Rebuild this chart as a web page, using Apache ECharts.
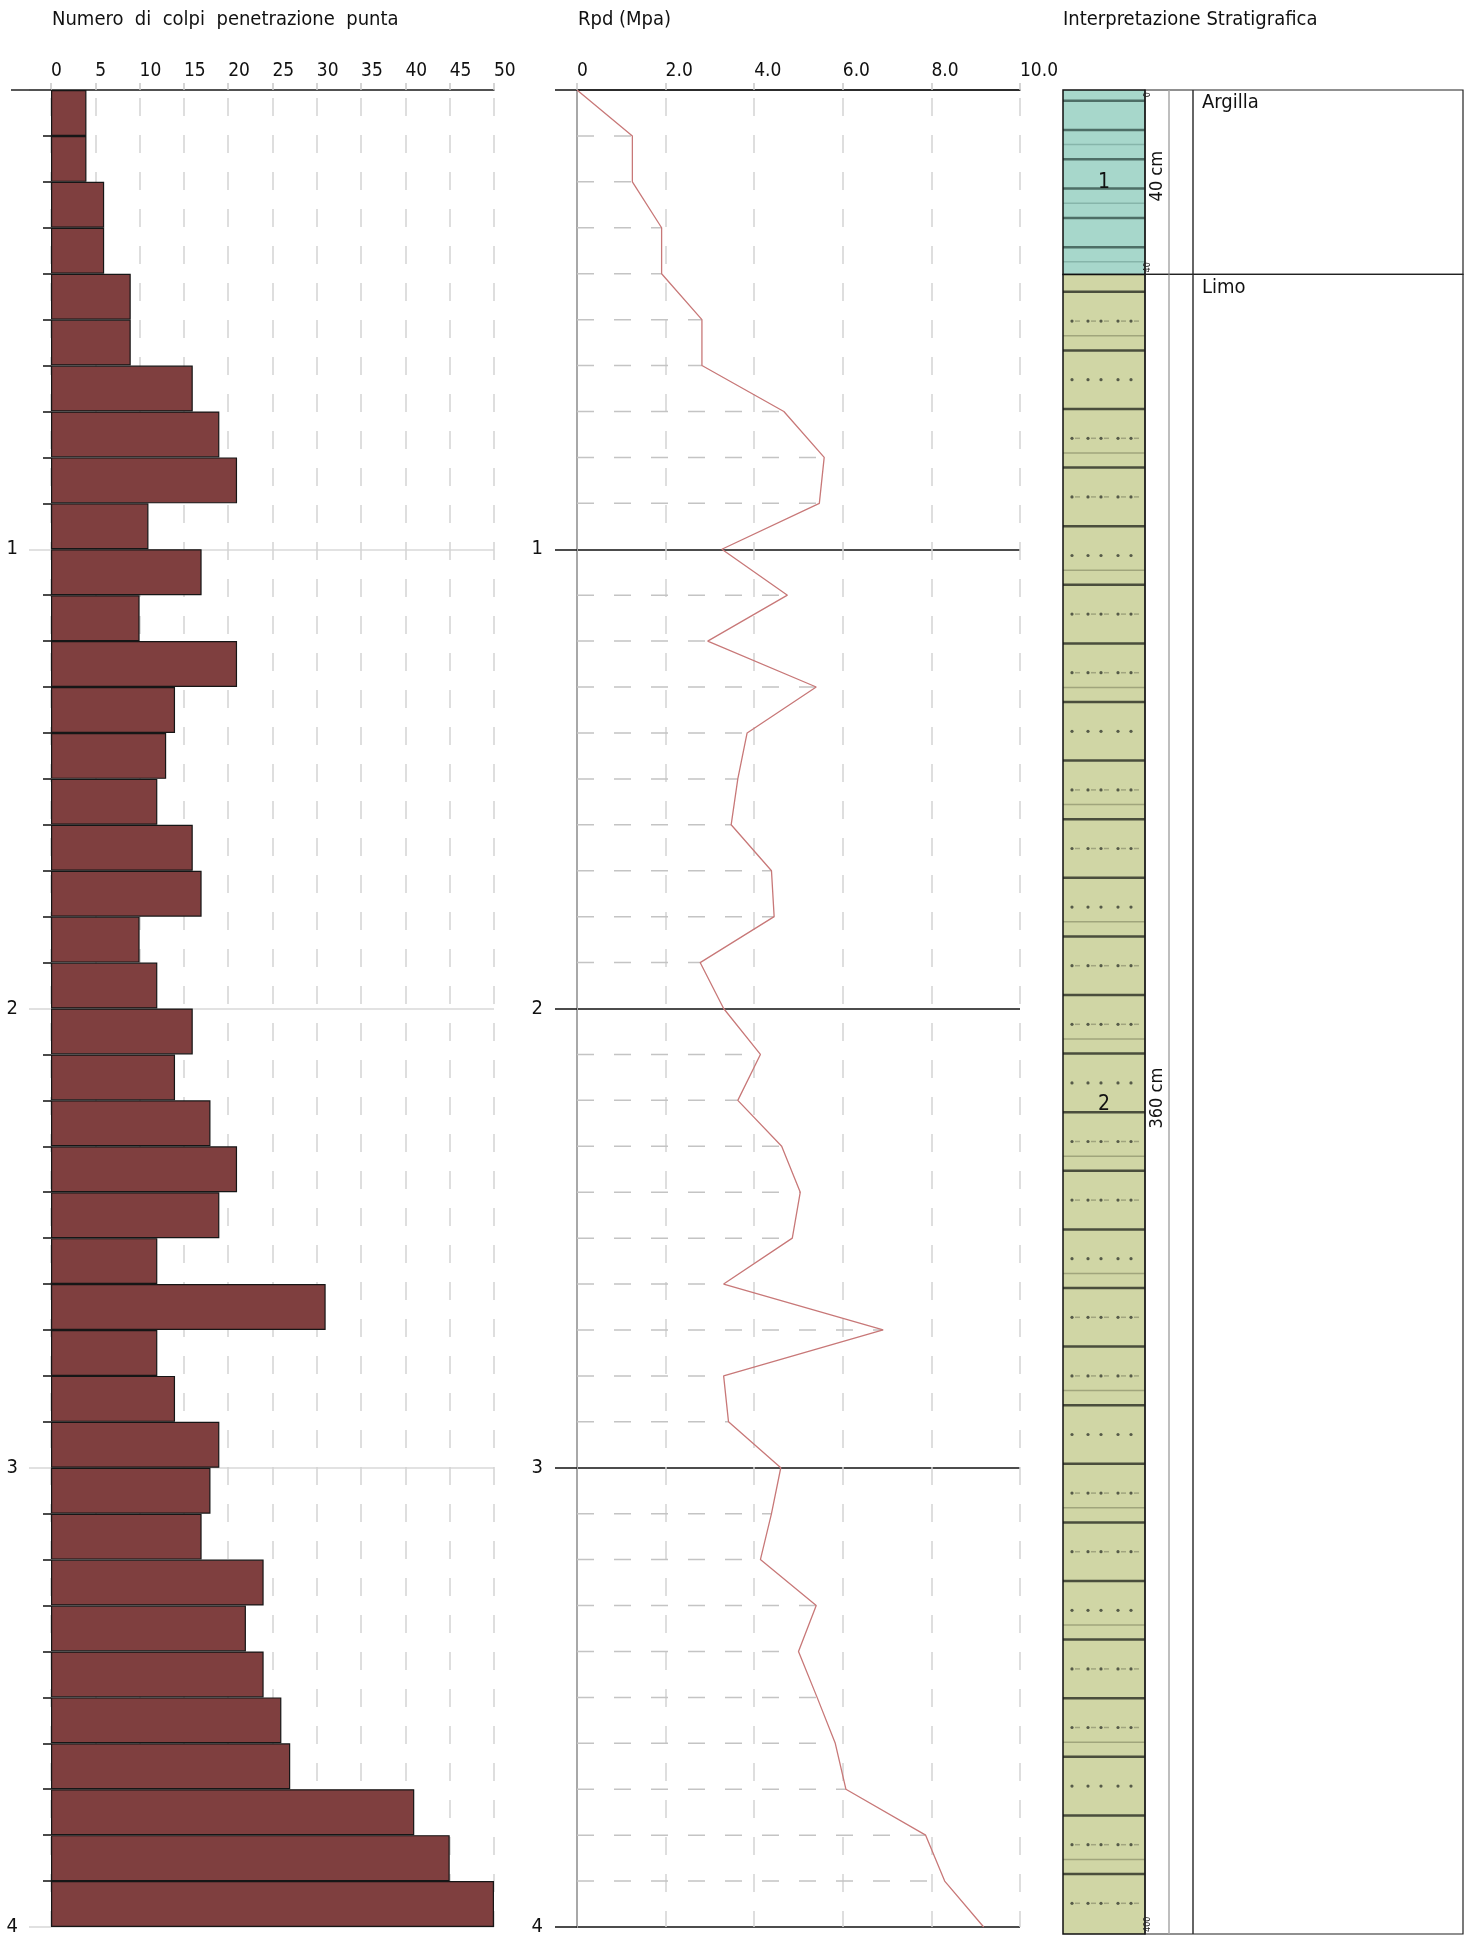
<!DOCTYPE html>
<html>
<head>
<meta charset="utf-8">
<script src="https://cdn.jsdelivr.net/npm/echarts@6.0.0/dist/echarts.min.js"></script>
<style>
html,body{margin:0;padding:0;background:#fff;}
#main{width:1470px;height:1937px;}
</style>
</head>
<body>
<div id="main"></div>
<script>
// profondita' (m) dei punti di misura
var profondita=[0.0,0.1,0.2,0.3,0.4,0.5,0.6,0.7,0.8,0.9,1.0,1.1,1.2,1.3,1.4,1.5,1.6,1.7,1.8,1.9,2.0,
  2.1,2.2,2.3,2.4,2.5,2.6,2.7,2.8,2.9,3.0,3.1,3.2,3.3,3.4,3.5,3.6,3.7,3.8,3.9,4.0];
// numero colpi per ogni tratto di 10 cm
var colpi=[4,4,6,6,9,9,16,19,21,11,17,10,21,14,13,12,16,17,10,12,16,14,18,21,19,12,31,12,14,19,18,17,24,22,24,26,27,41,45,50];
// Rpd (Mpa) alle profondita' sopra
var rpd=[0,1.25,1.25,1.91,1.91,2.82,2.82,4.67,5.58,5.47,3.27,4.75,2.95,5.40,3.84,3.63,3.48,4.39,4.45,2.78,3.31,
  4.14,3.63,4.62,5.04,4.86,3.31,6.91,3.31,3.42,4.60,4.39,4.14,5.40,5.00,5.42,5.83,6.07,7.87,8.30,9.18];
var colpiTicks=[0,5,10,15,20,25,30,35,40,45,50];
var rpdTicks=[0,2,4,6,8,10];
var depthTicks=[0,1,2,3,4];
// stratigrafia
var stratoTop=[0,0.4];
var stratoBase=[0.4,4.0];
var stratoNum=[1,2];
var stratoNome=['Argilla','Limo'];

var FONT='"DejaVu Sans Condensed","DejaVu Sans",sans-serif';
var litologia={
  'Argilla':{fill:'#a7d7cb',dark:'#4d6e66',light:'#86b5aa',step:29.3,first:10.7,dots:false},
  'Limo':{fill:'#d0d6a5',dark:'#3b3f31',light:'#a0a57c',step:58.6,first:17.4,dots:true}
};

var intervalli=[];
for(var i=0;i<colpi.length;i++){intervalli.push(profondita[i]+'-'+profondita[i+1]);}
var rpdPunti=rpd.map(function(v,i){return [v,profondita[i]];});
var strati=stratoTop.map(function(t,i){return [t,stratoBase[i],stratoNum[i]];});

function renderTratteggio(params,api){
  var v=api.value(0),d=api.value(1);
  if(!v||Math.abs(d-Math.round(d))<1e-6)return;
  var a=api.coord([0,d]),b=api.coord([v,d]);
  return {type:'line',shape:{x1:a[0],y1:a[1],x2:b[0],y2:b[1]},
    style:{stroke:'#c4c4c4',lineWidth:1.5,lineDash:[17,20]},z2:1};
}

function renderStrato(params,api){
  var top=api.value(0),base=api.value(1),num=api.value(2);
  var p0=api.coord([0,top]),p1=api.coord([1,base]);
  var x0=p0[0],y0=p0[1],x1=p1[0],y1=p1[1],h=y1-y0;
  var colW=82;
  var nome=stratoNome[params.dataIndex];
  var st=litologia[nome];
  var ch=[];
  ch.push({type:'rect',shape:{x:x0,y:y0,width:colW,height:h},style:{fill:st.fill}});
  var k=0,off;
  if(!st.dots){
    for(off=st.first;off<h-3;off+=st.step,k++){
      ch.push({type:'line',shape:{x1:x0,y1:y0+off,x2:x0+colW,y2:y0+off},style:{stroke:st.dark,lineWidth:2.5}});
      if(k%2===1&&off+14.6<h-3)ch.push({type:'line',shape:{x1:x0,y1:y0+off+14.6,x2:x0+colW,y2:y0+off+14.6},style:{stroke:st.light,lineWidth:1.5}});
    }
  }else{
    var dx=[9,25,38,55,68];
    for(off=st.first;off<h-3;off+=st.step,k++){
      ch.push({type:'line',shape:{x1:x0,y1:y0+off,x2:x0+colW,y2:y0+off},style:{stroke:st.dark,lineWidth:2.5,opacity:0.9}});
      if(k%2===0&&off+44<h-3)ch.push({type:'line',shape:{x1:x0,y1:y0+off+44,x2:x0+colW,y2:y0+off+44},style:{stroke:st.light,lineWidth:1.5}});
      var yd=y0+off+29.3;
      if(yd<y1-6){
        for(var j=0;j<dx.length;j++){
          ch.push({type:'circle',shape:{cx:x0+dx[j],cy:yd,r:1.6},style:{fill:'#555a48'}});
          if(k%3!==1)ch.push({type:'line',shape:{x1:x0+dx[j]+3,y1:yd,x2:x0+dx[j]+8,y2:yd},style:{stroke:'#a0a47e',lineWidth:1.5}});
        }
      }
    }
  }
  ch.push({type:'rect',shape:{x:x0,y:y0,width:colW,height:h},style:{fill:'none',stroke:'#111',lineWidth:1.5}});
  ch.push({type:'rect',shape:{x:x0+colW,y:y0,width:x1-x0-colW,height:h},style:{fill:'none',stroke:'#222',lineWidth:1.2}});
  ch.push({type:'line',shape:{x1:x0+106,y1:y0,x2:x0+106,y2:y1},style:{stroke:'#a8a8a8',lineWidth:1.5}});
  ch.push({type:'line',shape:{x1:x0+130,y1:y0,x2:x0+130,y2:y1},style:{stroke:'#333',lineWidth:1.5}});
  ch.push({type:'text',x:x0+colW/2,y:(y0+y1)/2,style:{text:String(num),fill:'#111',fontSize:21,fontFamily:FONT,align:'center',verticalAlign:'middle'}});
  ch.push({type:'text',x:x0+94,y:(y0+y1)/2-6,rotation:Math.PI/2,style:{text:Math.round((base-top)*100)+' cm',fill:'#111',fontSize:18,fontFamily:FONT,align:'center',verticalAlign:'middle'}});
  ch.push({type:'text',x:x0+139,y:y0+3,style:{text:nome,fill:'#111',fontSize:20,fontFamily:FONT,align:'left',verticalAlign:'top'}});
  if(params.dataIndex===0){
    ch.push({type:'text',x:x0+colW+3,y:y0+2,rotation:Math.PI/2,style:{text:String(Math.round(top*100)),fill:'#222',fontSize:9,fontFamily:FONT,align:'right',verticalAlign:'middle'}});
  }
  ch.push({type:'text',x:x0+colW+3,y:y1-2,rotation:Math.PI/2,style:{text:String(Math.round(base*100)),fill:'#222',fontSize:9,fontFamily:FONT,align:'left',verticalAlign:'middle'}});
  return {type:'group',children:ch};
}

var myChart=echarts.init(document.getElementById('main'));
var lab={fontSize:19,color:'#111',fontFamily:FONT};
var tit={fontSize:20,fontWeight:'normal',color:'#111',fontFamily:FONT};
myChart.setOption({
  animation:false,
  backgroundColor:'#fff',
  title:[
    {text:'Numero  di  colpi  penetrazione  punta',left:47,top:5,textStyle:tit},
    {text:'Rpd (Mpa)',left:573,top:5,textStyle:tit},
    {text:'Interpretazione Stratigrafica',left:1058,top:5,textStyle:tit}
  ],
  graphic:[
    {type:'line',shape:{x1:11,y1:90,x2:51,y2:90},style:{stroke:'#222',lineWidth:1.5},z:10}
  ],
  grid:[
    {left:51,top:90,width:443,height:1844},
    {left:577,top:90,width:443,height:1844},
    {left:1063,top:90,width:400,height:1844}
  ],
  xAxis:[
    {gridIndex:0,type:'value',position:'top',min:colpiTicks[0],max:colpiTicks[colpiTicks.length-1],interval:colpiTicks[1]-colpiTicks[0],
      axisLine:{show:true,lineStyle:{color:'#222',width:1.5}},
      axisTick:{show:true,length:7,lineStyle:{color:'#c8c8c8',width:1.5}},
      axisLabel:Object.assign({align:'left',margin:9},lab),
      splitLine:{show:true,lineStyle:{color:'#d4d4d4',width:1.5,type:[18,19],dashOffset:-8}}},
    {gridIndex:1,type:'value',position:'top',min:rpdTicks[0],max:rpdTicks[rpdTicks.length-1],interval:rpdTicks[1]-rpdTicks[0],
      axisLine:{show:true,lineStyle:{color:'#222',width:1.5}},
      axisTick:{show:true,length:7,lineStyle:{color:'#c8c8c8',width:1.5}},
      axisLabel:Object.assign({align:'left',margin:9,formatter:function(v){return v===0?'0':v.toFixed(1);}},lab),
      splitLine:{show:true,lineStyle:{color:'#d4d4d4',width:1.5,type:[18,19],dashOffset:-8}}},
    {gridIndex:2,type:'value',min:0,max:1,show:false}
  ],
  yAxis:[
    {gridIndex:0,type:'category',position:'left',inverse:true,data:intervalli,show:false},
    {gridIndex:0,type:'value',position:'left',offset:0,inverse:true,min:depthTicks[0],max:depthTicks[depthTicks.length-1],interval:1,
      axisLine:{show:false},
      axisTick:{show:true,length:22,lineStyle:{color:'#d8d8d8',width:1.5}},
      minorTick:{show:true,splitNumber:10,length:8,lineStyle:{color:'#111',width:1.5}},
      axisLabel:Object.assign({margin:33,formatter:function(v){return v===0?'':String(v);}},lab,{fontSize:20}),
      splitLine:{show:true,lineStyle:{color:'#d8d8d8',width:1.5}}},
    {gridIndex:1,type:'value',position:'left',inverse:true,min:depthTicks[0],max:depthTicks[depthTicks.length-1],interval:1,
      axisLine:{show:true,lineStyle:{color:'#a8a8a8',width:2}},
      axisTick:{show:true,length:22,lineStyle:{color:'#111',width:1.5}},
      axisLabel:Object.assign({margin:34,formatter:function(v){return v===0?'':String(v);}},lab,{fontSize:20}),
      splitLine:{show:true,lineStyle:{color:'#111',width:1.5}}},
    {gridIndex:2,type:'value',inverse:true,min:0,max:4,show:false}
  ],
  series:[
    {name:'Numero colpi',type:'bar',xAxisIndex:0,yAxisIndex:0,data:colpi,barWidth:'100%',barCategoryGap:'0%',
      itemStyle:{color:'#7f3f3f',borderColor:'#161616',borderWidth:1.2},z:3},
    {name:'tratteggio',type:'custom',xAxisIndex:1,yAxisIndex:2,data:rpdPunti,renderItem:renderTratteggio,
      encode:{x:0,y:1},silent:true,z:2},
    {name:'Rpd',type:'line',xAxisIndex:1,yAxisIndex:2,data:rpdPunti,symbol:'none',
      lineStyle:{color:'#c87878',width:1.3},z:4},
    {name:'Stratigrafia',type:'custom',xAxisIndex:2,yAxisIndex:3,data:strati,renderItem:renderStrato,
      encode:{y:[0,1]},silent:true,z:3}
  ]
});
</script>
</body>
</html>
